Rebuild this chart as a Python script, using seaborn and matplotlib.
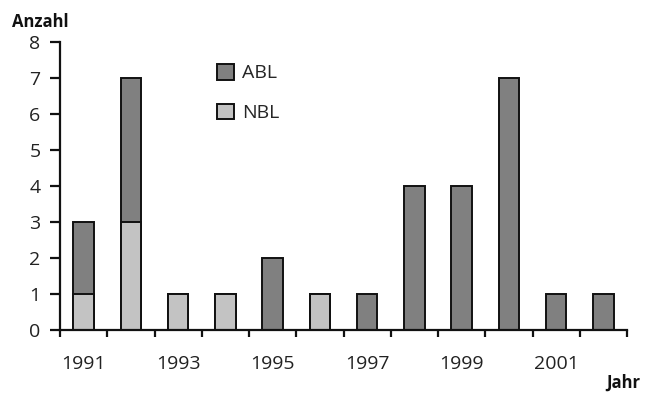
import numpy as np
import pandas as pd
import matplotlib
matplotlib.use("Agg")
import matplotlib.pyplot as plt
import seaborn as sns
from matplotlib.patches import Patch

years = [1991, 1992, 1993, 1994, 1995, 1996, 1997, 1998, 1999, 2000, 2001, 2002]
abl = [2, 4, 0, 0, 2, 0, 1, 4, 4, 7, 1, 1]
nbl = [1, 3, 1, 1, 0, 1, 0, 0, 0, 0, 0, 0]
yticks = [0, 1, 2, 3, 4, 5, 6, 7, 8]
xlabels_shown = ["1991", "1993", "1995", "1997", "1999", "2001"]

col_abl = "#808080"
col_nbl = "#c3c3c3"

sns.set_style("white")
plt.rcParams["font.family"] = ["Open Sans", "DejaVu Sans"]

df = pd.DataFrame({
    "Jahr": [str(y) for y in years],
    "ABL": abl,
    "NBL": nbl,
})
df["Gesamt"] = df["ABL"] + df["NBL"]
order = df["Jahr"].tolist()

fig = plt.figure(figsize=(6.51, 3.94), dpi=100)
ax = fig.add_axes([60 / 651, 1 - 330 / 394, 567 / 651, 288 / 394])

# stacked bars: total in ABL colour, NBL portion drawn over the bottom
sns.barplot(data=df, x="Jahr", y="Gesamt", order=order, color=col_abl,
            width=0.43, edgecolor="#111111", linewidth=1.4, ax=ax,
            saturation=1)
sns.barplot(data=df, x="Jahr", y="NBL", order=order, color=col_nbl,
            width=0.43, edgecolor="#111111", linewidth=1.4, ax=ax,
            saturation=1)
# hide zero-height NBL outlines
for p in ax.patches:
    if p.get_height() == 0:
        p.set_visible(False)

ax.set_xlim(-0.5, len(years) - 0.5)
ax.set_ylim(0, 8)
ax.set_yticks(yticks)
ax.set_yticklabels([str(t) for t in yticks], fontsize=14, color="#222222")

ax.set_xticks([order.index(s) for s in xlabels_shown])
ax.set_xticklabels(xlabels_shown, fontsize=14, color="#222222")
ax.set_xticks(np.arange(-0.5, len(years), 1.0), minor=True)
ax.tick_params(axis="x", which="major", length=0, pad=18)
ax.tick_params(axis="x", which="minor", length=5, width=1.6, color="#111111",
               direction="out", bottom=True)
ax.tick_params(axis="y", which="major", length=7, width=1.6, color="#111111",
               direction="out", left=True, pad=7)

ax.set_xlabel("")
ax.set_ylabel("")
for s in ["top", "right"]:
    ax.spines[s].set_visible(False)
for s in ["left", "bottom"]:
    ax.spines[s].set_color("#111111")
    ax.spines[s].set_linewidth(1.6)

fig.text(12 / 651, 1 - 22 / 394, "Anzahl", fontsize=12, fontweight="bold",
         ha="left", va="center", color="#111111")
fig.text(640 / 651, 1 - 383 / 394, "Jahr", fontsize=12, fontweight="bold",
         ha="right", va="center", color="#111111")

handles = [Patch(facecolor=col_abl, edgecolor="#111111", linewidth=1.4),
           Patch(facecolor=col_nbl, edgecolor="#111111", linewidth=1.4)]
fig.legend(handles, ["ABL", "NBL"], loc="upper left",
           bbox_to_anchor=(217 / 651, 1 - 64 / 394), frameon=False,
           fontsize=14, handlelength=0.85, handleheight=0.85,
           handletextpad=0.45, labelspacing=1.1, borderpad=0,
           borderaxespad=0)

fig.savefig("out.png", dpi=100)
